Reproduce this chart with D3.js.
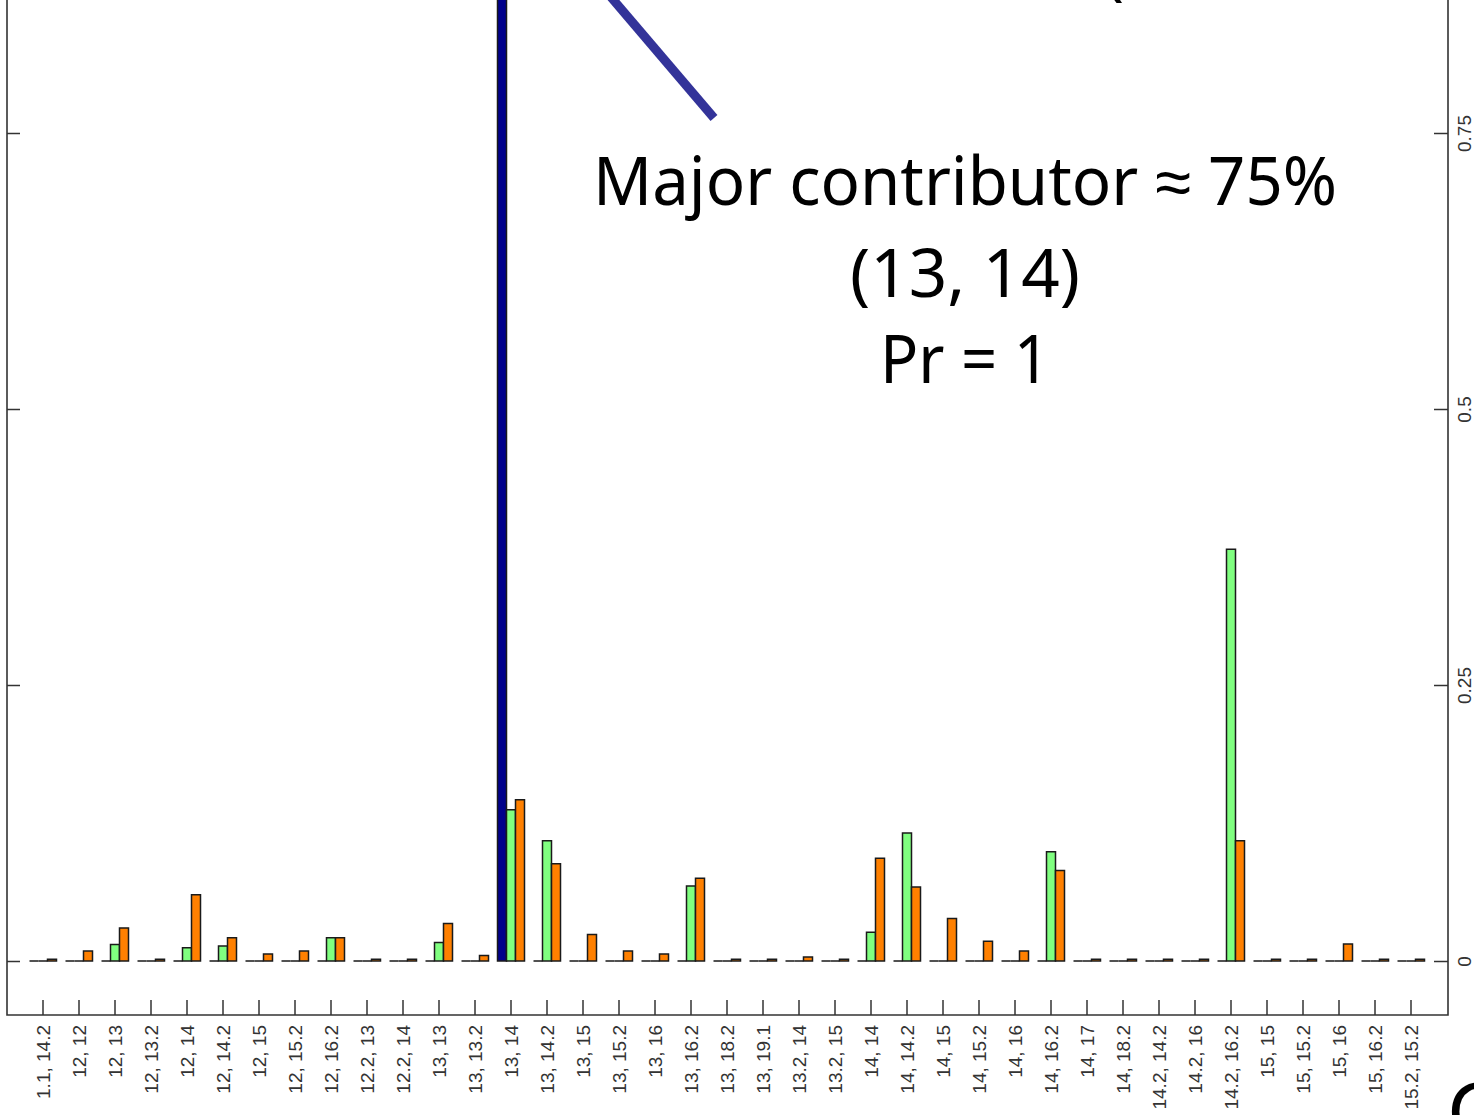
<!DOCTYPE html>
<html>
<head>
<meta charset="utf-8">
<script src="https://cdn.jsdelivr.net/npm/d3@7"></script>
<style>
    body { margin: 0; background: #fff; overflow: hidden; }
    .tick text { font-family: "Liberation Sans", Arial, sans-serif; fill: #333; }
</style>
</head>
<body>
<div id="chart"></div>
<script>
// x categories (allele pairs)
const categories = ["1.1, 14.2", "12, 12", "12, 13", "12, 13.2", "12, 14", "12, 14.2", "12, 15", "12, 15.2",
    "12, 16.2", "12.2, 13", "12.2, 14", "13, 13", "13, 13.2", "13, 14", "13, 14.2", "13, 15", "13, 15.2",
    "13, 16", "13, 16.2", "13, 18.2", "13, 19.1", "13.2, 14", "13.2, 15", "14, 14", "14, 14.2", "14, 15",
    "14, 15.2", "14, 16", "14, 16.2", "14, 17", "14, 18.2", "14.2, 14.2", "14.2, 16", "14.2, 16.2",
    "15, 15", "15, 15.2", "15, 16", "15, 16.2", "15.2, 15.2"];

const seriesNames = ["blue", "green", "orange"];

const blueVals = [0, 0, 0, 0, 0, 0, 0, 0, 0, 0, 0, 0, 0, 1, 0, 0, 0, 0, 0, 0,
    0, 0, 0, 0, 0, 0, 0, 0, 0, 0, 0, 0, 0, 0, 0, 0, 0, 0, 0];

const greenVals = [0, 0, 0.015, 0, 0.012, 0.0135, 0, 0, 0.021, 0, 0, 0.0167, 0, 0.137, 0.109, 0, 0, 0, 0.068, 0,
    0, 0, 0, 0.026, 0.116, 0, 0, 0, 0.099, 0, 0, 0, 0, 0.373, 0, 0, 0, 0, 0];

const orangeVals = [0.0015, 0.009, 0.030, 0.0015, 0.060, 0.021, 0.0063, 0.009, 0.021, 0.0015, 0.0015, 0.034, 0.005,
    0.146, 0.088, 0.024, 0.009, 0.0063, 0.075, 0.0015, 0.0015, 0.0036, 0.0015, 0.093, 0.067, 0.0385, 0.018,
    0.009, 0.082, 0.0015, 0.0015, 0.0015, 0.0015, 0.109, 0.0015, 0.0015, 0.0154, 0.0015, 0.0015];

const yTicks = [0, 0.25, 0.5, 0.75];
const yTickLabels = ["0", "0.25", "0.5", "0.75"];

const noteLines = ["Major contributor ≈ 75%", "(13, 14)", "Pr = 1"];

class pairBarVis {
    constructor(parentElement) {
        this.parentElement = parentElement;
        let vis = this;
        vis.width = 1474;
        vis.height = 1115;
        // plot frame (top is cut off in the picture)
        vis.frame = {left: 7, right: 1448, bottom: 1015};
        vis.colors = {blue: "#00008B", green: "#80FF80", orange: "#FF8000"};
        this.initVis();
    }

    initVis() {
        let vis = this;
        vis.svg = d3.select("#" + vis.parentElement)
            .append("svg")
            .attr("width", vis.width)
            .attr("height", vis.height);

        vis.data = categories.map((c, i) => ({
            cat: c,
            values: {blue: blueVals[i], green: greenVals[i], orange: orangeVals[i]}
        }));

        // scales
        vis.x = d3.scaleBand()
            .domain(categories)
            .range([25, 1429])
            .paddingInner(0.25)
            .paddingOuter(0.125);

        vis.xInner = d3.scaleBand()
            .domain(seriesNames)
            .range([0, vis.x.bandwidth()]);

        vis.y = d3.scaleLinear()
            .domain([0, 0.25])
            .range([961, 685]);

        // bars drawn as paths so zero-height bars still show as a line
        let groups = vis.svg.selectAll(".grp")
            .data(vis.data)
            .enter()
            .append("g")
            .attr("class", "grp")
            .attr("transform", d => "translate(" + vis.x(d.cat) + ",0)");

        groups.selectAll("path")
            .data(d => seriesNames.map(s => ({s: s, v: d.values[s]})))
            .enter()
            .append("path")
            .attr("d", d => {
                let x0 = vis.xInner(d.s), w = vis.xInner.bandwidth();
                let y0 = vis.y(0), y1 = vis.y(d.v);
                return "M" + x0 + "," + y0 + "V" + y1 + "H" + (x0 + w) + "V" + y0 + "Z";
            })
            .attr("fill", d => vis.colors[d.s])
            .attr("stroke", "#1a1a1a")
            .attr("stroke-width", 1.5);

        // frame
        let f = vis.frame;
        vis.svg.append("path")
            .attr("d", "M" + f.left + ",-5V" + f.bottom + "H" + f.right + "V-5")
            .attr("fill", "none")
            .attr("stroke", "#333")
            .attr("stroke-width", 1.6);

        // bottom axis, ticks pointing up
        let xAxis = d3.axisBottom(vis.x).tickSizeInner(-15).tickSizeOuter(0);
        let gx = vis.svg.append("g")
            .attr("transform", "translate(0," + f.bottom + ")")
            .call(xAxis);
        gx.select(".domain").remove();
        gx.selectAll(".tick line").attr("stroke", "#333").attr("stroke-width", 1.5);
        gx.selectAll(".tick text")
            .style("font-size", "19px")
            .attr("text-anchor", "end")
            .attr("x", 0)
            .attr("y", 0)
            .attr("dy", "0.35em")
            .attr("transform", "translate(0,10) rotate(-90)");

        // left axis, no labels
        let gl = vis.svg.append("g")
            .attr("transform", "translate(" + f.left + ",0)")
            .call(d3.axisLeft(vis.y).tickValues(yTicks).tickFormat("").tickSizeInner(-13).tickSizeOuter(0));
        gl.select(".domain").remove();
        gl.selectAll(".tick line").attr("stroke", "#333").attr("stroke-width", 1.5);

        // right axis with rotated labels
        let gr = vis.svg.append("g")
            .attr("transform", "translate(" + f.right + ",0)")
            .call(d3.axisRight(vis.y).tickValues(yTicks)
                .tickFormat((d, i) => yTickLabels[i]).tickSizeInner(-14).tickSizeOuter(0));
        gr.select(".domain").remove();
        gr.selectAll(".tick line").attr("stroke", "#333").attr("stroke-width", 1.5);
        gr.selectAll(".tick text")
            .style("font-size", "19px")
            .attr("text-anchor", "middle")
            .attr("x", 0)
            .attr("y", 0)
            .attr("dy", "0.35em")
            .attr("transform", "translate(16,0) rotate(-90)");

        // pointer line
        vis.svg.append("line")
            .attr("x1", 593).attr("y1", -24)
            .attr("x2", 714).attr("y2", 118)
            .attr("stroke", "#333399")
            .attr("stroke-width", 9);

        // annotation
        let widths = [744, 230, 170];
        let baselines = [205, 297, 383];
        vis.svg.selectAll(".note")
            .data(noteLines)
            .enter()
            .append("text")
            .attr("class", "note")
            .attr("x", 965)
            .attr("y", (d, i) => baselines[i])
            .attr("text-anchor", "middle")
            .attr("textLength", (d, i) => widths[i])
            .attr("lengthAdjust", "spacingAndGlyphs")
            .style("font-family", "'Noto Sans', sans-serif")
            .style("font-size", "67px")
            .style("fill", "#000")
            .text(d => d);

        // fragments of surrounding slide text, cut by the picture edges as in the source
        vis.svg.append("text")
            .attr("x", 1104).attr("y", -8)
            .style("font-family", "'Noto Sans', sans-serif")
            .style("font-size", "67px")
            .text("(");
        vis.svg.append("text")
            .attr("x", 1447).attr("y", 1140)
            .style("font-family", "'Noto Sans', sans-serif")
            .style("font-size", "80px")
            .text("G");
    }
}

new pairBarVis("chart");
</script>
</body>
</html>
